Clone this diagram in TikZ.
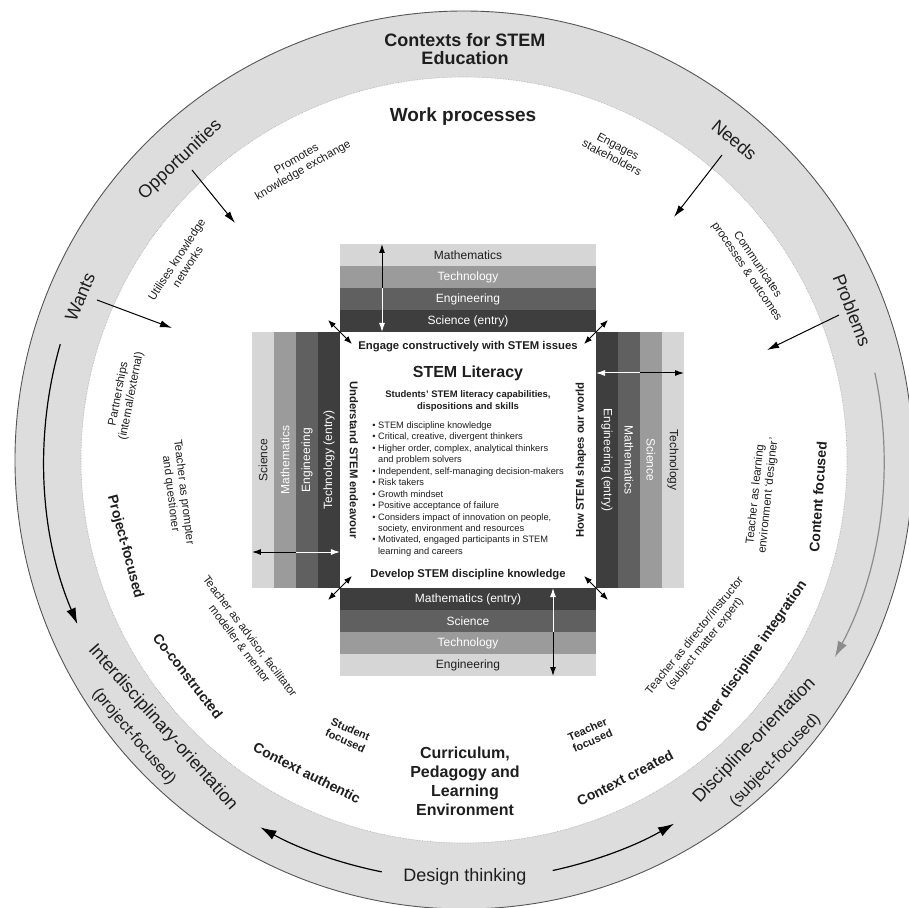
\documentclass[tikz,border=0pt]{standalone}
\usepackage{fontspec}
\setmainfont{Liberation Sans}
\usepackage{tikz}
\usetikzlibrary{positioning,arrows.meta}
\definecolor{myink}{RGB}{30,30,30}
\definecolor{myring}{RGB}{221,221,221}
\definecolor{myedge}{RGB}{85,85,85}
\definecolor{mylight}{RGB}{214,214,214}
\definecolor{mymid}{RGB}{155,155,155}
\definecolor{mydark}{RGB}{96,96,96}
\definecolor{mydeep}{RGB}{62,62,62}
\definecolor{myarc}{RGB}{140,140,140}

\begin{document}
\begin{tikzpicture}[x=1pt, y=1pt, text=myink,
    ringlabel/.style={font=\fontsize{18}{21}\selectfont, inner sep=0pt},
    ringsub/.style={font=\fontsize{16}{19}\selectfont, inner sep=0pt},
    bigbold/.style={font=\bfseries\fontsize{18}{18}\selectfont, align=center, inner sep=0pt},
    midbold/.style={font=\bfseries\fontsize{14}{16}\selectfont, align=center, inner sep=0pt},
    smallbold/.style={font=\bfseries\fontsize{11}{12.5}\selectfont, align=center, inner sep=0pt},
    note/.style={font=\fontsize{11.5}{13}\selectfont, align=center, inner sep=0pt},
    hbar/.style={minimum width=256pt, minimum height=22pt, inner sep=0pt, outer sep=0pt, font=\fontsize{12}{14}\selectfont},
    boxhead/.style={font=\bfseries\fontsize{11.3}{13}\selectfont, inner sep=0pt},
    items/.style={font=\fontsize{9.3}{11.45}\selectfont, align=left, inner sep=0pt},
    ringarrow/.style={line width=1.2pt, -{Latex[length=16pt,width=10pt]}},
    inarrow/.style={line width=1pt, -{Latex[length=12pt,width=7pt]}},
    stackarrow/.style={line width=1pt, -{Latex[length=9pt,width=6pt]}},
    cornerarrow/.style={line width=1pt, {Latex[length=8pt,width=6pt]}-{Latex[length=8pt,width=6pt]}}]

  \useasboundingbox (-464,-447) rectangle (445,460);

  % ring
  \fill[myring, even odd rule] (0,0) circle[radius=449] (0,0) circle[radius=383];
  \draw[myedge, line width=0.9pt] (0,0) circle[radius=449];
  \draw[myedge!50, line width=0.6pt, densely dotted] (0,0) circle[radius=383];

  % STEM literacy box and the four stacks
  \node[fill=white, minimum width=256pt, minimum height=256pt, inner sep=0pt, outer sep=0pt] (lit) at (4,0) {};

  \node[hbar, fill=mydeep, text=white, above=0pt of lit] (topsci) {Science (entry)};
  \node[hbar, fill=mydark, text=white, above=0pt of topsci] (topeng) {Engineering};
  \node[hbar, fill=mymid, text=white, above=0pt of topeng] (toptech) {Technology};
  \node[hbar, fill=mylight, above=0pt of toptech] (topmath) {Mathematics};

  \node[hbar, fill=mydeep, text=white, below=0pt of lit] (botmath) {Mathematics (entry)};
  \node[hbar, fill=mydark, text=white, below=0pt of botmath] (botsci) {Science};
  \node[hbar, fill=mymid, text=white, below=0pt of botsci] (bottech) {Technology};
  \node[hbar, fill=mylight, below=0pt of bottech] (boteng) {Engineering};

  \node[hbar, fill=mydeep, text=white, rotate=90, anchor=south] (lefttech) at (lit.west) {Technology (entry)};
  \node[hbar, fill=mydark, text=white, rotate=90, anchor=south] (lefteng) at (lefttech.north) {Engineering};
  \node[hbar, fill=mymid, text=white, rotate=90, anchor=south] (leftmath) at (lefteng.north) {Mathematics};
  \node[hbar, fill=mylight, rotate=90, anchor=south] (leftsci) at (leftmath.north) {Science};

  \node[hbar, fill=mydeep, text=white, rotate=-90, anchor=south] (righteng) at (lit.east) {Engineering (entry)};
  \node[hbar, fill=mydark, text=white, rotate=-90, anchor=south] (rightmath) at (righteng.north) {Mathematics};
  \node[hbar, fill=mymid, text=white, rotate=-90, anchor=south] (rightsci) at (rightmath.north) {Science};
  \node[hbar, fill=mylight, rotate=-90, anchor=south] (righttech) at (rightsci.north) {Technology};

  % box texts
  \node[boxhead] (engage) at ([yshift=-15pt]lit.north) {Engage constructively with STEM issues};
  \node[font=\bfseries\fontsize{16}{18}\selectfont, inner sep=0pt] (title) at ([yshift=-41pt]lit.north) {STEM Literacy};
  \node[font=\bfseries\fontsize{9.5}{12}\selectfont, align=center, inner sep=0pt] (caps) at ([yshift=-69pt]lit.north) {Students' STEM literacy capabilities,\\dispositions and skills};
  \node[items] (skills) at ([yshift=-29pt]lit.center) {%
    \textbullet\ STEM discipline knowledge\\
    \textbullet\ Critical, creative, divergent thinkers\\
    \textbullet\ Higher order, complex, analytical thinkers\\
    \phantom{\textbullet\ }and problem solvers\\
    \textbullet\ Independent, self-managing decision-makers\\
    \textbullet\ Risk takers\\
    \textbullet\ Growth mindset\\
    \textbullet\ Positive acceptance of failure\\
    \textbullet\ Considers impact of innovation on people,\\
    \phantom{\textbullet\ }society, environment and resources\\
    \textbullet\ Motivated, engaged participants in STEM\\
    \phantom{\textbullet\ }learning and careers};
  \node[boxhead] (develop) at ([yshift=13pt]lit.south) {Develop STEM discipline knowledge};
  \node[boxhead, rotate=-90] (endeavour) at ([xshift=14pt]lit.west) {Understand STEM endeavour};
  \node[boxhead, rotate=90] (world) at ([xshift=-15pt]lit.east) {How STEM shapes our world};

  % arrows through the stacks
  \draw[stackarrow] ([shift={(42,44)}]lit.north west) -- ([shift={(42,88)}]lit.north west);
  \draw[stackarrow, white] ([shift={(42,44)}]lit.north west) -- ([shift={(42,0)}]lit.north west);
  \draw[stackarrow] ([shift={(-44,36)}]lit.south west) -- ([shift={(-88,36)}]lit.south west);
  \draw[stackarrow, white] ([shift={(-44,36)}]lit.south west) -- ([shift={(0,36)}]lit.south west);
  \draw[stackarrow] ([shift={(44,-41)}]lit.north east) -- ([shift={(88,-41)}]lit.north east);
  \draw[stackarrow, white] ([shift={(44,-41)}]lit.north east) -- ([shift={(0,-41)}]lit.north east);
  \draw[stackarrow] ([shift={(-43,-44)}]lit.south east) -- ([shift={(-43,-88)}]lit.south east);
  \draw[stackarrow, white] ([shift={(-43,-44)}]lit.south east) -- ([shift={(-43,0)}]lit.south east);

  % corner arrows
  \draw[cornerarrow] ([shift={(-12,12)}]lit.north west) -- ([shift={(12,-12)}]lit.north west);
  \draw[cornerarrow] ([shift={(12,12)}]lit.north east) -- ([shift={(-12,-12)}]lit.north east);
  \draw[cornerarrow] ([shift={(12,12)}]lit.south west) -- ([shift={(-12,-12)}]lit.south west);
  \draw[cornerarrow] ([shift={(-12,12)}]lit.south east) -- ([shift={(12,-12)}]lit.south east);

  % outer ring labels
  \node[bigbold] (contexts) at (1,411) {Contexts for STEM\\Education};
  \node[ringlabel, rotate=43.4] (opps) at (133.4:413) {Opportunities};
  \node[ringlabel, rotate=67] (wants) at (157:417) {Wants};
  \node[ringlabel, rotate=-40.2] (needs) at (49.8:419) {Needs};
  \node[ringlabel, rotate=-68.9] (problems) at (21.1:416) {Problems};
  \node[ringlabel, rotate=-48.4] (interdisc) at (221.6:403) {Interdisciplinary-orientation};
  \node[ringsub, rotate=-50] (projfoc) at (220:431) {(project-focused)};
  \node[ringlabel, rotate=46] (discip) at (-44:404) {Discipline-orientation};
  \node[ringsub, rotate=46] (subjfoc) at (-44:433) {(subject-focused)};
  \node[ringlabel] (design) at (1,-417) {Design thinking};

  % ring arrows
  \coordinate (wantsarc) at (164:420);
  \draw[ringarrow] (wantsarc) arc[start angle=164, end angle=203, radius=420];
  \coordinate (problemsarc) at (12:420);
  \draw[ringarrow, myarc] (problemsarc) arc[start angle=12, end angle=-28, radius=420];
  \coordinate (designleft) at (258.7:420);
  \draw[ringarrow] (designleft) arc[start angle=258.7, end angle=241, radius=420];
  \coordinate (designright) at (-77.8:420);
  \draw[ringarrow] (designright) arc[start angle=-77.8, end angle=-60, radius=420];

  % arrows into the circle
  \coordinate (opps1) at (-272,290);  \coordinate (opps2) at (-229,237);
  \coordinate (wants1) at (-367,160); \coordinate (wants2) at (-292,132);
  \coordinate (needs1) at (258,305);  \coordinate (needs2) at (210,243);
  \coordinate (probs1) at (375,145);  \coordinate (probs2) at (303,110);
  \draw[inarrow] (opps1) -- (opps2);
  \draw[inarrow] (wants1) -- (wants2);
  \draw[inarrow] (needs1) -- (needs2);
  \draw[inarrow] (probs1) -- (probs2);

  % inner labels
  \node[bigbold, font=\bfseries\fontsize{19}{20}\selectfont] (work) at (-1,343) {Work processes};
  \node[note, rotate=30] (promotes) at (-164,295) {Promotes\\knowledge exchange};
  \node[note, rotate=-28] (engages) at (151,308) {Engages\\stakeholders};
  \node[note, rotate=57] (utilises) at (-282,197) {Utilises knowledge\\networks};
  \node[note, rotate=-56] (communicates) at (288,192) {Communicates\\processes \& outcomes};
  \node[note, rotate=79] (partners) at (-339,65) {Partnerships\\(internal/external)};
  \node[note, rotate=-83] (prompter) at (-287,-33) {Teacher as prompter\\and questioner};
  \node[midbold, rotate=-75] (projfocused) at (-339,-87) {Project-focused};
  \node[note, rotate=-53] (advisor) at (-219,-180) {Teacher as advisor, facilitator\\modeller \& mentor};
  \node[midbold, rotate=-52] (coconstr) at (-276,-216) {Co-constructed};
  \node[midbold, rotate=-27] (authentic) at (-157,-313) {Context authentic};
  \node[smallbold, rotate=-24] (student) at (-116,-275) {Student\\focused};
  \node[font=\bfseries\fontsize{16}{19}\selectfont, align=center, inner sep=0pt] (curric) at (1,-321) {Curriculum,\\Pedagogy and\\Learning\\Environment};
  \node[smallbold, rotate=24] (teacherfoc) at (126,-275) {Teacher\\focused};
  \node[midbold, rotate=27] (created) at (161,-318) {Context created};
  \node[note, rotate=51] (director) at (236,-180) {Teacher as director/instructor\\(subject matter expert)};
  \node[midbold, rotate=55] (otherdisc) at (288,-197) {Other discipline integration};
  \node[note, rotate=84] (designer) at (298,-35) {Teacher as learning\\environment `designer'};
  \node[midbold, rotate=86] (content) at (354,-37) {Content focused};
\end{tikzpicture}
\end{document}
